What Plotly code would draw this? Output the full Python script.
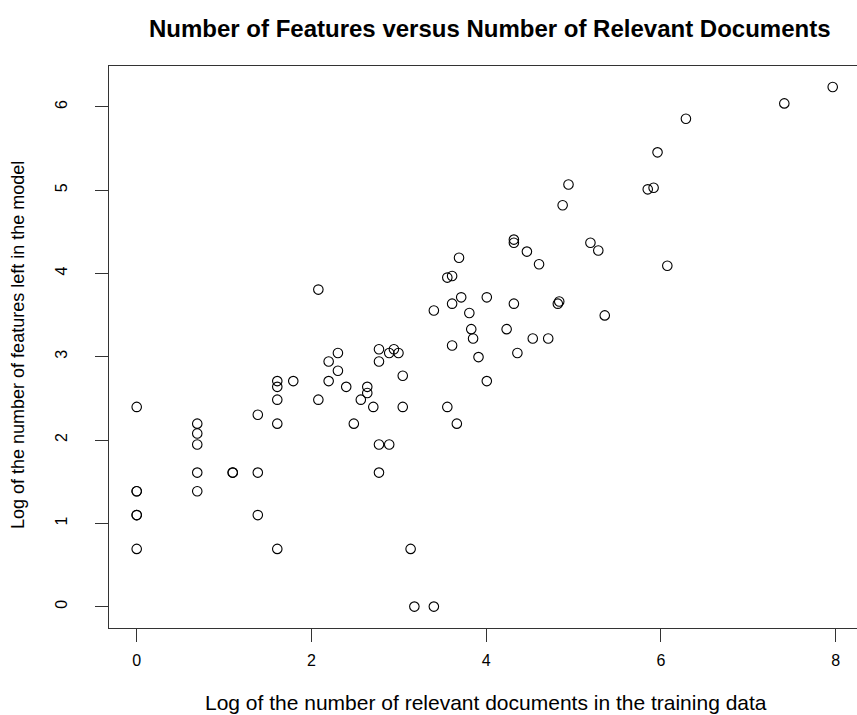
import plotly.graph_objects as go

# Log of number of relevant documents (x) and log of number of features (y)
log_docs = [
    0.000, 0.000, 0.000, 0.000, 0.000, 0.000,
    0.693, 0.693, 0.693, 0.693, 0.693,
    1.099, 1.099,
    1.386, 1.386, 1.386,
    1.609, 1.609, 1.609, 1.609, 1.609,
    1.792,
    2.079, 2.079,
    2.197, 2.197,
    2.303, 2.303,
    2.398, 2.485, 2.565, 2.639, 2.639, 2.708,
    2.773, 2.773, 2.773, 2.773,
    2.890, 2.890, 2.944, 2.996,
    3.045, 3.045, 3.135, 3.178, 3.401, 3.401,
    3.555, 3.610, 3.555, 3.610, 3.610, 3.664, 3.689, 3.714,
    3.807, 3.829, 3.850, 3.912, 4.007, 4.007,
    4.234, 4.317, 4.317, 4.317, 4.357, 4.466, 4.533, 4.605, 4.710,
    4.820, 4.836, 4.875, 4.942,
    5.193, 5.283, 5.357,
    5.849, 5.916, 5.961, 6.073, 6.286, 7.412, 7.966,
]
log_features = [
    2.398, 1.386, 1.386, 1.099, 1.099, 0.693,
    2.197, 2.079, 1.946, 1.609, 1.386,
    1.609, 1.609,
    2.303, 1.609, 1.099,
    2.708, 2.639, 2.485, 2.197, 0.693,
    2.708,
    3.807, 2.485,
    2.944, 2.708,
    3.045, 2.833,
    2.639, 2.197, 2.485, 2.639, 2.565, 2.398,
    3.091, 2.944, 1.946, 1.609,
    3.045, 1.946, 3.091, 3.045,
    2.773, 2.398, 0.693, 0.000, 0.000, 3.555,
    3.951, 3.970, 2.398, 3.638, 3.135, 2.197, 4.190, 3.714,
    3.526, 3.332, 3.219, 2.996, 3.714, 2.708,
    3.332, 4.407, 4.369, 3.638, 3.045, 4.263, 3.219, 4.111, 3.219,
    3.638, 3.664, 4.820, 5.069,
    4.369, 4.277, 3.497,
    5.011, 5.030, 5.455, 4.094, 5.858, 6.043, 6.240,
]

x_ticks = [0, 2, 4, 6, 8]
y_ticks = [0, 1, 2, 3, 4, 5, 6]

title_text = "Number of Features versus Number of Relevant Documents"
x_title = "Log of the number of relevant documents in the training data"
y_title = "Log of the number of features left in the model"

W, H = 857, 715
PL, PT, PB = 109, 66, 628  # plot-area edges in window pixels
L, R, T, B = PL, 0, PT, H - PB

fig = go.Figure()
fig.add_trace(go.Scatter(
    x=log_docs, y=log_features, mode="markers",
    marker=dict(symbol="circle-open", size=9.5, color="black",
                line=dict(width=1.1, color="black")),
    hoverinfo="x+y", showlegend=False,
))

font_family = "Liberation Sans, Arial, Helvetica, sans-serif"
axis_common = dict(
    showgrid=False, zeroline=False, showline=True, linecolor="#333",
    linewidth=1, mirror=True, ticks="outside", ticklen=13, tickwidth=1,
    tickcolor="#333", automargin=False,
    tickfont=dict(size=16, color="black", family=font_family),
)

def py(pix):
    return (PB - pix) / (PB - PT)

def px(pix):
    return (pix - PL) / (W - PL)

fig.update_layout(
    width=W, height=H,
    margin=dict(l=L, r=R, t=T, b=B, autoexpand=False),
    paper_bgcolor="white", plot_bgcolor="white",
    font=dict(family=font_family, color="black"),
    xaxis=dict(range=[-0.317, 8.244], tickvals=x_ticks,
               ticktext=[str(v) for v in x_ticks], ticklabelstandoff=5,
               **axis_common),
    yaxis=dict(range=[-0.257, 6.492], tickvals=y_ticks,
               ticktext=[str(v) for v in y_ticks], tickangle=-90,
               ticklabelstandoff=22, **axis_common),
    annotations=[
        dict(text="<b>" + title_text + "</b>", xref="paper", yref="paper",
             x=px(490), y=py(29), showarrow=False,
             xanchor="center", yanchor="middle",
             font=dict(size=24, family=font_family, color="black")),
        dict(text=x_title, xref="paper", yref="paper",
             x=px(486), y=py(702), showarrow=False,
             xanchor="center", yanchor="middle",
             font=dict(size=21, family=font_family, color="black")),
        dict(text=y_title, xref="paper", yref="paper",
             x=px(18), y=py(345),
             showarrow=False, textangle=-90,
             xanchor="center", yanchor="middle",
             font=dict(size=18, family=font_family, color="black")),
    ],
)

fig.write_html(
    "out.html",
    config={"displayModeBar": False},
    post_script="document.body.style.margin='0';document.body.style.overflow='hidden';",
)
